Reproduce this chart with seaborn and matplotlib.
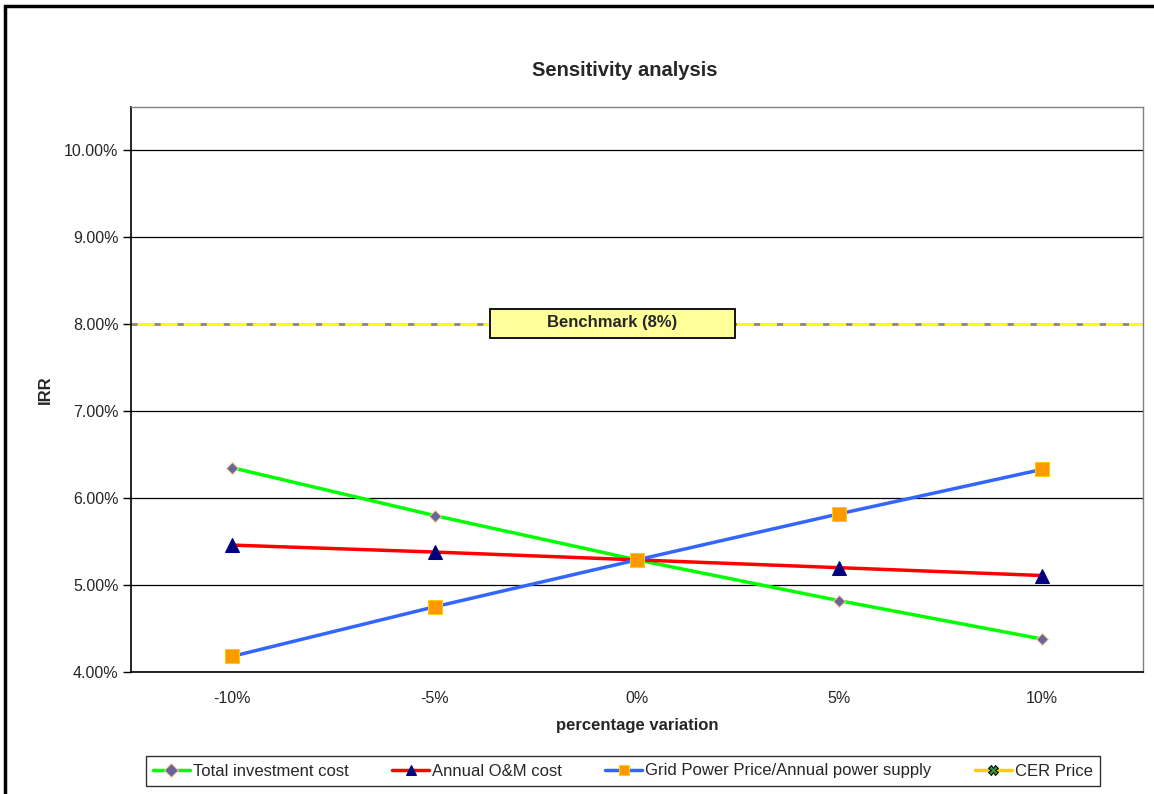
import numpy as np
import pandas as pd
import matplotlib
matplotlib.use("Agg")
import matplotlib.pyplot as plt
import seaborn as sns
from matplotlib.patches import Rectangle

# data
variation = ['-10%', '-5%', '0%', '5%', '10%']
total_investment = [6.35, 5.80, 5.29, 4.82, 4.38]
annual_om = [5.46, 5.38, 5.29, 5.20, 5.11]
grid_power = [4.18, 4.75, 5.29, 5.82, 6.33]
cer_price = [np.nan] * 5
benchmark = 8.0
y_ticks = [4, 5, 6, 7, 8, 9, 10]

sns.set_style("white")
plt.rcParams['font.family'] = ['Liberation Sans', 'DejaVu Sans']

W, H = 1154, 794
fig = plt.figure(figsize=(W / 100, H / 100), dpi=100)
ax = fig.add_axes([131 / W, 1 - 672 / H, (1143 - 131) / W, (672 - 107) / H])

df = pd.DataFrame({
    'variation': variation * 4,
    'irr': total_investment + annual_om + grid_power + cer_price,
    'series': (['Total investment cost'] * 5 + ['Annual O&M cost'] * 5
               + ['Grid Power Price/Annual power supply'] * 5 + ['CER Price'] * 5),
})

styles = {
    'Total investment cost': dict(color='#00FF00', marker='D', markersize=6,
                                  markerfacecolor='#666699', markeredgecolor='#FFCC99'),
    'Annual O&M cost': dict(color='#FF0000', marker='^', markersize=10,
                            markerfacecolor='#000080', markeredgecolor='#000080'),
    'Grid Power Price/Annual power supply': dict(color='#3366FF', marker='s', markersize=10,
                                                 markerfacecolor='#FF9900', markeredgecolor='#FFCC00'),
    'CER Price': dict(color='#FFCC00', marker='X', markersize=9,
                      markerfacecolor='#339933', markeredgecolor='#000000'),
}

# benchmark line: yellow with grey dashes
ax.axhline(benchmark, color='#FFFF00', lw=2, zorder=2)
ax.axhline(benchmark, color='#888888', lw=2, dashes=(2.2, 6.1), zorder=2)

for name, st in styles.items():
    sub = df[df['series'] == name]
    sns.lineplot(data=sub, x='variation', y='irr', ax=ax, lw=2.5, label=name,
                 zorder=4, sort=False, **st)

ax.set_xlim(-0.5, 4.5)
ax.set_ylim(4, 10.5)
ax.set_yticks(y_ticks)
ax.set_yticklabels([f'{v:.2f}%' for v in y_ticks], fontsize=11.5)
ax.yaxis.grid(True, color='#000000', lw=0.9)
ax.set_axisbelow(True)

ax.set_xticks(range(len(variation)))
ax.set_xticklabels(variation, fontsize=11.5)
ax.set_xticks(np.arange(-0.5, len(variation), 1), minor=True)
ax.tick_params(axis='x', which='major', length=0, pad=14)
ax.tick_params(axis='x', which='minor', length=8, direction='out', color='#000000', width=1)
ax.tick_params(axis='y', length=6, direction='out', color='#000000', width=1, left=True, pad=3)

for s in ['top', 'right']:
    ax.spines[s].set_color('#808080')
    ax.spines[s].set_linewidth(1)
for s in ['left', 'bottom']:
    ax.spines[s].set_color('#000000')
    ax.spines[s].set_linewidth(1.2)

ax.set_xlabel('percentage variation', fontsize=12, fontweight='bold', labelpad=8)
ax.set_ylabel('IRR', fontsize=12, fontweight='bold', labelpad=8)
fig.text(625 / W, 1 - 70 / H, 'Sensitivity analysis', ha='center', va='center',
         fontsize=14.5, fontweight='bold')

# benchmark label box
fig.patches.append(Rectangle((490 / W, 1 - 338 / H), 245 / W, 29 / H,
                             transform=fig.transFigure, fc='#FFFF99', ec='#000000',
                             lw=1.3, zorder=5))
fig.text(612 / W, 1 - 323 / H, 'Benchmark (8%)', ha='center', va='center',
         fontsize=12, fontweight='bold', zorder=6)

leg = ax.legend(loc='center', bbox_to_anchor=(623 / W, 1 - 771 / H),
                bbox_transform=fig.transFigure, ncol=4, frameon=True, fancybox=False,
                fontsize=12, handlelength=2.2, columnspacing=2.6, handletextpad=0.2,
                borderpad=0.45)
leg.get_frame().set_edgecolor('#000000')
leg.get_frame().set_linewidth(1)
for h in leg.get_lines():
    h.set_markersize(7)

# outer chart frame
fig.patches.append(Rectangle((5 / W, -0.05), 1160 / W, 1.05 - 6 / H,
                             transform=fig.transFigure, fill=False,
                             ec='#000000', lw=2.5, zorder=0))

fig.savefig('out.png', dpi=100)
